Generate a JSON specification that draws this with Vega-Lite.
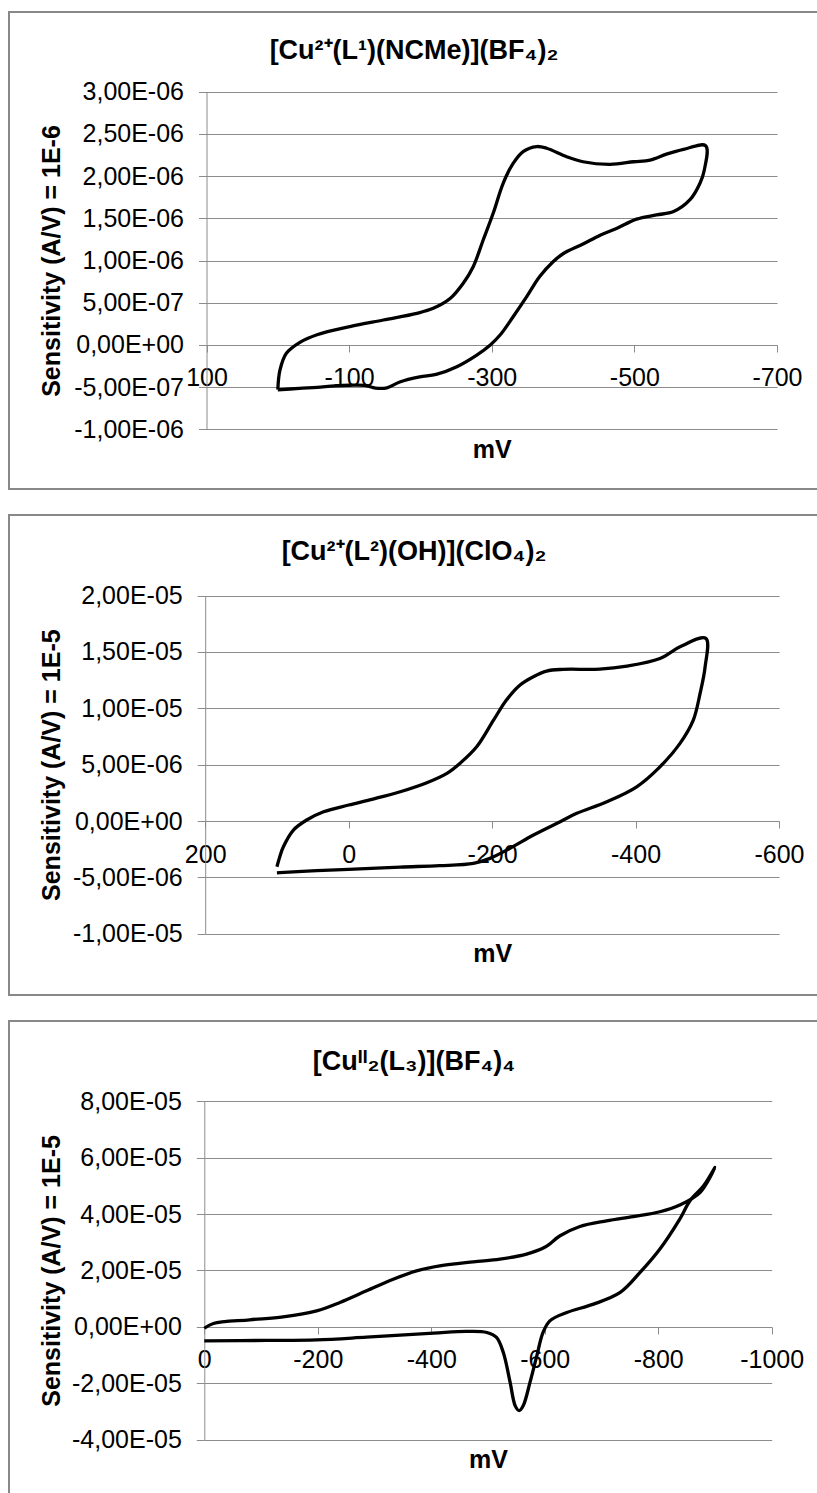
{
  "$schema": "https://vega.github.io/schema/vega-lite/v6.json",
  "background": "white",
  "padding": {"left": 8, "top": 11, "right": 0, "bottom": 0},
  "autosize": {"type": "pad"},
  "config": {
    "view": {"stroke": "#888888", "strokeWidth": 2},
    "font": "Liberation Sans",
    "concat": {"spacing": 24},
    "axis": {
      "domainColor": "#8c8c8c", "tickColor": "#8c8c8c", "gridColor": "#8c8c8c",
      "domainWidth": 1, "tickWidth": 1, "gridWidth": 1,
      "labelColor": "#000000", "titleColor": "#000000",
      "labelFont": "Liberation Sans", "titleFont": "Liberation Sans",
      "labelFontSize": 25, "titleFontSize": 25, "titleFontWeight": "bold",
      "labelOverlap": false, "labelFlush": false, "labelBound": false
    },
    "axisX": {"grid": false, "tickSize": 7, "labelPadding": 13, "titleBaseline": "alphabetic"},
    "axisY": {"grid": true, "tickSize": 8, "labelPadding": 15, "titleBaseline": "alphabetic", "titleAngle": -90},
    "title": {"fontSize": 27, "fontWeight": "bold", "color": "#000000", "anchor": "middle", "frame": "group", "baseline": "alphabetic", "font": "Liberation Sans"}
  },
  "datasets": {
    "p1": [
      {"i": 1, "mV": 0, "A": -5.34e-7},
      {"i": 2, "mV": -30, "A": -5.15e-7},
      {"i": 3, "mV": -55, "A": -5.03e-7},
      {"i": 4, "mV": -80, "A": -4.85e-7},
      {"i": 5, "mV": -101, "A": -4.78e-7},
      {"i": 6, "mV": -122, "A": -4.8e-7},
      {"i": 7, "mV": -137, "A": -5.12e-7},
      {"i": 8, "mV": -153, "A": -5.08e-7},
      {"i": 9, "mV": -171, "A": -4.4e-7},
      {"i": 10, "mV": -199, "A": -3.8e-7},
      {"i": 11, "mV": -222, "A": -3.5e-7},
      {"i": 12, "mV": -251, "A": -2.58e-7},
      {"i": 13, "mV": -279, "A": -1.2e-7},
      {"i": 14, "mV": -298, "A": 0},
      {"i": 15, "mV": -312, "A": 1.2e-7},
      {"i": 16, "mV": -330, "A": 3.34e-7},
      {"i": 17, "mV": -349, "A": 5.71e-7},
      {"i": 18, "mV": -367, "A": 8.08e-7},
      {"i": 19, "mV": -386, "A": 9.86e-7},
      {"i": 20, "mV": -400, "A": 1.08e-6},
      {"i": 21, "mV": -428, "A": 1.195e-6},
      {"i": 22, "mV": -452, "A": 1.3e-6},
      {"i": 23, "mV": -475, "A": 1.38e-6},
      {"i": 24, "mV": -503, "A": 1.49e-6},
      {"i": 25, "mV": -531, "A": 1.54e-6},
      {"i": 26, "mV": -555, "A": 1.58e-6},
      {"i": 27, "mV": -578, "A": 1.72e-6},
      {"i": 28, "mV": -592, "A": 1.915e-6},
      {"i": 29, "mV": -598, "A": 2.07e-6},
      {"i": 30, "mV": -600, "A": 2.36e-6},
      {"i": 31, "mV": -569, "A": 2.317e-6},
      {"i": 32, "mV": -545, "A": 2.26e-6},
      {"i": 33, "mV": -522, "A": 2.19e-6},
      {"i": 34, "mV": -499, "A": 2.17e-6},
      {"i": 35, "mV": -466, "A": 2.14e-6},
      {"i": 36, "mV": -428, "A": 2.17e-6},
      {"i": 37, "mV": -405, "A": 2.23e-6},
      {"i": 38, "mV": -377, "A": 2.33e-6},
      {"i": 39, "mV": -363, "A": 2.35e-6},
      {"i": 40, "mV": -344, "A": 2.29e-6},
      {"i": 41, "mV": -330, "A": 2.15e-6},
      {"i": 42, "mV": -316, "A": 1.915e-6},
      {"i": 43, "mV": -302, "A": 1.559e-6},
      {"i": 44, "mV": -288, "A": 1.243e-6},
      {"i": 45, "mV": -274, "A": 9.27e-7},
      {"i": 46, "mV": -260, "A": 7.3e-7},
      {"i": 47, "mV": -242, "A": 5.52e-7},
      {"i": 48, "mV": -218, "A": 4.33e-7},
      {"i": 49, "mV": -195, "A": 3.74e-7},
      {"i": 50, "mV": -148, "A": 2.95e-7},
      {"i": 51, "mV": -101, "A": 2.16e-7},
      {"i": 52, "mV": -55, "A": 1.2e-7},
      {"i": 53, "mV": -31, "A": 3e-8},
      {"i": 54, "mV": -12, "A": -1.0e-7},
      {"i": 55, "mV": -3, "A": -3.0e-7},
      {"i": 56, "mV": 0, "A": -5.3e-7}
    ],
    "p2": [
      {"i": 1, "mV": 100, "A": -4.05e-6},
      {"i": 2, "mV": 96, "A": -3.16e-6},
      {"i": 3, "mV": 91, "A": -2.28e-6},
      {"i": 4, "mV": 77, "A": -0.8e-6},
      {"i": 5, "mV": 58.5, "A": 0.09e-6},
      {"i": 6, "mV": 35, "A": 0.82e-6},
      {"i": 7, "mV": 0, "A": 1.42e-6},
      {"i": 8, "mV": -34, "A": 1.95e-6},
      {"i": 9, "mV": -72, "A": 2.6e-6},
      {"i": 10, "mV": -109, "A": 3.4e-6},
      {"i": 11, "mV": -137, "A": 4.23e-6},
      {"i": 12, "mV": -155, "A": 5.11e-6},
      {"i": 13, "mV": -178.5, "A": 6.59e-6},
      {"i": 14, "mV": -202, "A": 8.95e-6},
      {"i": 15, "mV": -220, "A": 1.073e-5},
      {"i": 16, "mV": -239, "A": 1.206e-5},
      {"i": 17, "mV": -257.5, "A": 1.28e-5},
      {"i": 18, "mV": -276, "A": 1.33e-5},
      {"i": 19, "mV": -299, "A": 1.345e-5},
      {"i": 20, "mV": -350, "A": 1.347e-5},
      {"i": 21, "mV": -388, "A": 1.374e-5},
      {"i": 22, "mV": -434, "A": 1.442e-5},
      {"i": 23, "mV": -462, "A": 1.545e-5},
      {"i": 24, "mV": -498, "A": 1.62e-5},
      {"i": 25, "mV": -497, "A": 1.368e-5},
      {"i": 26, "mV": -490, "A": 1.132e-5},
      {"i": 27, "mV": -480.5, "A": 8.95e-6},
      {"i": 28, "mV": -462, "A": 6.89e-6},
      {"i": 29, "mV": -434, "A": 4.81e-6},
      {"i": 30, "mV": -401.6, "A": 3.04e-6},
      {"i": 31, "mV": -360, "A": 1.71e-6},
      {"i": 32, "mV": -318, "A": 0.68e-6},
      {"i": 33, "mV": -295, "A": -0.06e-6},
      {"i": 34, "mV": -257.7, "A": -1.24e-6},
      {"i": 35, "mV": -225, "A": -2.42e-6},
      {"i": 36, "mV": -197, "A": -3.31e-6},
      {"i": 37, "mV": -174, "A": -3.75e-6},
      {"i": 38, "mV": -127, "A": -3.96e-6},
      {"i": 39, "mV": -72, "A": -4.08e-6},
      {"i": 40, "mV": 0, "A": -4.28e-6},
      {"i": 41, "mV": 44.5, "A": -4.4e-6},
      {"i": 42, "mV": 96, "A": -4.58e-6},
      {"i": 43, "mV": 100, "A": -4.6e-6}
    ],
    "p3": [
      {"i": 1, "mV": 0, "A": -0.5e-6},
      {"i": 2, "mV": -16, "A": 1.2e-6},
      {"i": 3, "mV": -80, "A": 2.5e-6},
      {"i": 4, "mV": -139, "A": 3.55e-6},
      {"i": 5, "mV": -198, "A": 5.67e-6},
      {"i": 6, "mV": -239, "A": 8.65e-6},
      {"i": 7, "mV": -286, "A": 1.277e-5},
      {"i": 8, "mV": -333, "A": 1.69e-5},
      {"i": 9, "mV": -374, "A": 1.986e-5},
      {"i": 10, "mV": -415, "A": 2.163e-5},
      {"i": 11, "mV": -474, "A": 2.305e-5},
      {"i": 12, "mV": -521, "A": 2.4e-5},
      {"i": 13, "mV": -568, "A": 2.58e-5},
      {"i": 14, "mV": -600, "A": 2.82e-5},
      {"i": 15, "mV": -627, "A": 3.23e-5},
      {"i": 16, "mV": -662, "A": 3.56e-5},
      {"i": 17, "mV": -709, "A": 3.76e-5},
      {"i": 18, "mV": -756, "A": 3.91e-5},
      {"i": 19, "mV": -803, "A": 4.08e-5},
      {"i": 20, "mV": -838, "A": 4.32e-5},
      {"i": 21, "mV": -874, "A": 4.77e-5},
      {"i": 22, "mV": -900, "A": 5.65e-5},
      {"i": 23, "mV": -880, "A": 5.0e-5},
      {"i": 24, "mV": -856, "A": 4.47e-5},
      {"i": 25, "mV": -838, "A": 3.82e-5},
      {"i": 26, "mV": -803, "A": 2.76e-5},
      {"i": 27, "mV": -768, "A": 1.93e-5},
      {"i": 28, "mV": -733, "A": 1.22e-5},
      {"i": 29, "mV": -686, "A": 8.05e-6},
      {"i": 30, "mV": -639, "A": 5.1e-6},
      {"i": 31, "mV": -609, "A": 2.13e-6},
      {"i": 32, "mV": -597, "A": -1.99e-6},
      {"i": 33, "mV": -586, "A": -1.03e-5},
      {"i": 34, "mV": -574, "A": -1.97e-5},
      {"i": 35, "mV": -562, "A": -2.8e-5},
      {"i": 36, "mV": -555, "A": -2.97e-5},
      {"i": 37, "mV": -548, "A": -2.8e-5},
      {"i": 38, "mV": -539, "A": -1.97e-5},
      {"i": 39, "mV": -527, "A": -9.1e-6},
      {"i": 40, "mV": -515, "A": -3.76e-6},
      {"i": 41, "mV": -498, "A": -1.99e-6},
      {"i": 42, "mV": -462, "A": -1.63e-6},
      {"i": 43, "mV": -404, "A": -2.23e-6},
      {"i": 44, "mV": -286, "A": -3.65e-6},
      {"i": 45, "mV": -198, "A": -4.6e-6},
      {"i": 46, "mV": -110, "A": -4.8e-6},
      {"i": 47, "mV": 0, "A": -4.96e-6}
    ]
  },
  "vconcat": [
    {
      "width": 810,
      "height": 477,
      "title": {"text": "[Cu²⁺(L¹)(NCMe)](BF₄)₂", "offset": -53},
      "data": {"name": "p1"},
      "mark": {"type": "line", "color": "#000000", "strokeWidth": 3.3, "interpolate": "catmull-rom"},
      "encoding": {
        "x": {
          "field": "mV", "type": "quantitative",
          "scale": {"domain": [100, -700], "range": [197.5, 768], "nice": false, "zero": false},
          "axis": {"title": "mV", "offset": -144, "values": [100, -100, -300, -500, -700], "format": "d", "labelExpr": "replace(datum.label, '\u2212', '-')", "titleY": 112}
        },
        "y": {
          "field": "A", "type": "quantitative",
          "scale": {"domain": [-1e-6, 3e-6], "range": [417.3, 79.7], "nice": false, "zero": false},
          "axis": {"title": "Sensitivity (A/V) = 1E-6", "offset": -197.5, "values": [-1e-6, -5e-7, 0, 5e-7, 1e-6, 1.5e-6, 2e-6, 2.5e-6, 3e-6], "labelExpr": "replace(replace(replace(replace(format(datum.value, '.2e'), '.', ','), 'e-', 'E-0'), 'e+', 'E+0'), '\u2212', '-')", "titleX": -147.5}
        },
        "order": {"field": "i", "type": "quantitative"}
      }
    },
    {
      "width": 810,
      "height": 480,
      "title": {"text": "[Cu²⁺(L²)(OH)](ClO₄)₂", "offset": -51},
      "data": {"name": "p2"},
      "mark": {"type": "line", "color": "#000000", "strokeWidth": 3.3, "interpolate": "catmull-rom"},
      "encoding": {
        "x": {
          "field": "mV", "type": "quantitative",
          "scale": {"domain": [200, -600], "range": [196.2, 770], "nice": false, "zero": false},
          "axis": {"title": "mV", "offset": -174, "values": [200, 0, -200, -400, -600], "format": "d", "labelExpr": "replace(datum.label, '\u2212', '-')", "titleY": 140, "labelPadding": 14}
        },
        "y": {
          "field": "A", "type": "quantitative",
          "scale": {"domain": [-1e-5, 2e-5], "range": [418.8, 80.5], "nice": false, "zero": false},
          "axis": {"title": "Sensitivity (A/V) = 1E-5", "offset": -196.2, "values": [-1e-5, -5e-6, 0, 5e-6, 1e-5, 1.5e-5, 2e-5], "labelExpr": "replace(replace(replace(replace(format(datum.value, '.2e'), '.', ','), 'e-', 'E-0'), 'e+', 'E+0'), '\u2212', '-')", "titleX": -146.2}
        },
        "order": {"field": "i", "type": "quantitative"}
      }
    },
    {
      "width": 810,
      "height": 478,
      "title": {"text": "[Cuᴵᴵ₂(L₃)](BF₄)₄", "offset": -55},
      "data": {"name": "p3"},
      "mark": {"type": "line", "color": "#000000", "strokeWidth": 3.3, "interpolate": "catmull-rom"},
      "encoding": {
        "x": {
          "field": "mV", "type": "quantitative",
          "scale": {"domain": [0, -1000], "range": [195.3, 762.7], "nice": false, "zero": false},
          "axis": {"title": "mV", "offset": -172, "values": [0, -200, -400, -600, -800, -1000], "format": "d", "labelExpr": "replace(datum.label, '\u2212', '-')", "titleY": 140}
        },
        "y": {
          "field": "A", "type": "quantitative",
          "scale": {"domain": [-4e-5, 8e-5], "range": [418.7, 80.2], "nice": false, "zero": false},
          "axis": {"title": "Sensitivity (A/V) = 1E-5", "offset": -195.3, "values": [-4e-5, -2e-5, 0, 2e-5, 4e-5, 6e-5, 8e-5], "labelExpr": "replace(replace(replace(replace(format(datum.value, '.2e'), '.', ','), 'e-', 'E-0'), 'e+', 'E+0'), '\u2212', '-')", "titleX": -145.3}
        },
        "order": {"field": "i", "type": "quantitative"}
      }
    }
  ]
}
